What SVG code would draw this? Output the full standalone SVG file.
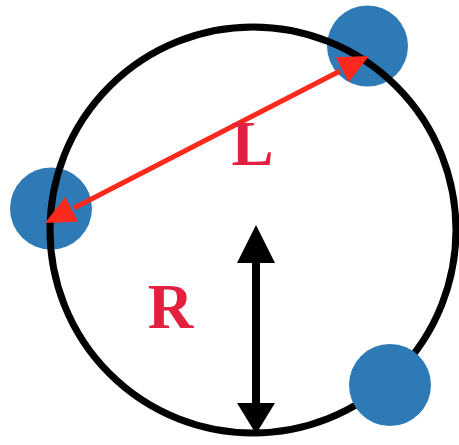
<svg xmlns="http://www.w3.org/2000/svg" width="459" height="445" viewBox="0 0 459 445">
<style>
.dot{fill:#2e7ab6}
.ring{fill:none;stroke:#000;stroke-width:7}
.lbl{font-family:"Liberation Serif","Times New Roman",serif;font-weight:bold;font-size:63px;fill:#e3203f;text-anchor:middle}
.red{stroke:#fb2a1d;stroke-width:5;fill:none}
.redhead{fill:#fb2a1d}
.blk{stroke:#000;stroke-width:8;fill:none}
.blkhead{fill:#000}
</style>
<rect width="459" height="445" fill="#fff"/>
<g id="dot-top"><circle class="dot" cx="367.5" cy="46" r="40.5"/></g>
<g id="dot-left"><circle class="dot" cx="51" cy="208.5" r="41"/></g>
<g id="ring"><circle class="ring" cx="253" cy="230" r="203"/></g>
<g id="dot-bottom"><circle class="dot" cx="390" cy="385" r="41"/></g>
<g id="connectors">
<line class="blk" x1="256" y1="260" x2="256" y2="406"/>
<polygon class="blkhead" points="256,225 275,263 237,263"/>
<polygon class="blkhead" points="256,434 275,403 237,403"/>
<line class="red" x1="74" y1="208" x2="340" y2="71"/>
<polygon class="redhead" points="45,223 78.1,221.7 65.3,196.9"/>
<polygon class="redhead" points="369,56 335.9,57.2 348.7,82.2"/>
</g>
<g id="labels">
<text class="lbl" x="252.5" y="165">L</text>
<text class="lbl" x="170.5" y="328">R</text>
</g>
</svg>
